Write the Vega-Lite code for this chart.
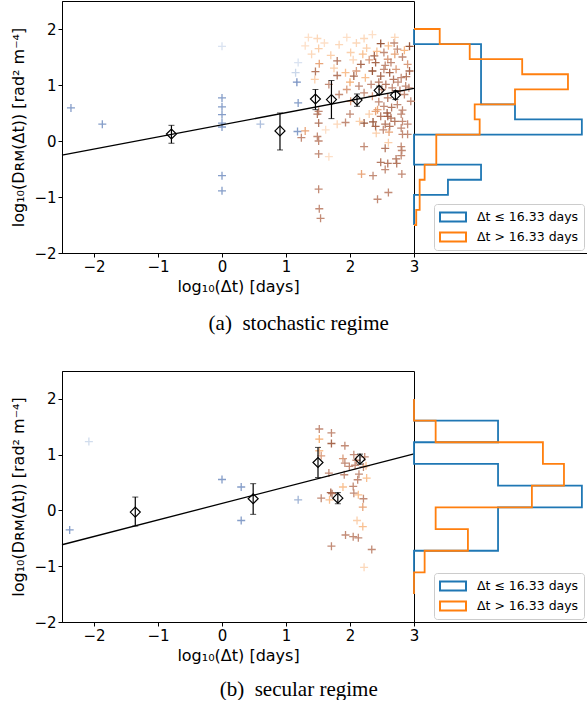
{
"$schema": "https://vega.github.io/schema/vega-lite/v6.json",
"padding": {"left": 10, "top": 0, "right": 0, "bottom": 0},
"config": {
 "font": "DejaVu Sans",
 "view": {"stroke": "black", "strokeWidth": 1},
 "axis": {"labelFont": "DejaVu Sans", "labelFontSize": 15, "titleFont": "DejaVu Sans", "titleFontSize": 16, "titleFontWeight": "normal", "labelColor": "black", "titleColor": "black", "tickColor": "black", "domainColor": "black", "grid": false, "tickSize": 4, "labelPadding": 2, "labelFlush": false, "labelOverlap": false, "titlePadding": 4, "format": "d"},
 "axisY": {"titlePadding": 7},
 "legend": {"orient": "bottom-right", "offset": 3, "fillColor": "white", "strokeColor": "#cccccc", "cornerRadius": 3, "padding": 5, "labelFont": "DejaVu Sans", "labelFontSize": 12.5, "labelColor": "black", "symbolType": "M-1,-0.35H1V0.35H-1Z", "symbolSize": 676, "symbolStrokeWidth": 2, "symbolFillColor": "transparent", "labelOffset": 10, "clipHeight": 16, "rowPadding": 4},
 "title": {"font": "Liberation Serif", "fontSize": 21, "fontWeight": "normal", "color": "black", "orient": "bottom", "anchor": "middle", "offset": 18}
},
"datasets": {
 "blueA": [
  {"x":-2.36,"y":0.59,"w":0.7},{"x":-1.87,"y":0.30,"w":0.7},{"x":0,"y":1.69,"w":0.1},{"x":0,"y":0.77,"w":0.7},{"x":0,"y":0.61,"w":0.7},{"x":0,"y":0.47,"w":0.7},{"x":0,"y":0.32,"w":0.7},{"x":0,"y":0.25,"w":0.7},{"x":0,"y":-0.62,"w":0.7},{"x":0,"y":-0.89,"w":0.7},{"x":0.60,"y":0.30,"w":0.4},{"x":1.15,"y":1.22,"w":0.2},{"x":1.19,"y":1.40,"w":0.1},{"x":1.17,"y":1.05,"w":0.8},{"x":1.19,"y":0.68,"w":0.7},{"x":1.18,"y":0.17,"w":0.7}
 ],
 "orangeA": [
  {"x":1.49,"y":1.83,"w":0.15},{"x":2.22,"y":1.83,"w":0.15},{"x":2.48,"y":1.74,"w":0.9},{"x":2.69,"y":1.75,"w":0.6},{"x":2.93,"y":1.69,"w":0.9},{"x":1.83,"y":1.72,"w":0.15},{"x":2.26,"y":1.66,"w":0.2},{"x":1.51,"y":1.65,"w":0.2},{"x":2.74,"y":1.64,"w":0.6},{"x":2.53,"y":1.58,"w":0.6},{"x":2.01,"y":1.58,"w":0.2},{"x":1.70,"y":1.53,"w":0.2},{"x":2.38,"y":1.52,"w":0.8},{"x":2.59,"y":1.46,"w":0.5},{"x":2.82,"y":1.50,"w":0.6},{"x":1.80,"y":1.43,"w":0.7},{"x":1.52,"y":1.38,"w":0.45},{"x":2.17,"y":1.37,"w":0.8},{"x":2.40,"y":1.40,"w":0.8},{"x":2.64,"y":1.40,"w":0.6},{"x":2.90,"y":1.37,"w":0.5},{"x":1.46,"y":1.24,"w":0.7},{"x":2.35,"y":1.25,"w":0.9},{"x":2.53,"y":1.28,"w":0.6},{"x":2.72,"y":1.28,"w":0.5},{"x":2.93,"y":1.25,"w":0.8},{"x":1.80,"y":1.17,"w":0.7},{"x":2.06,"y":1.16,"w":0.8},{"x":2.24,"y":1.13,"w":0.3},{"x":1.93,"y":1.22,"w":0.3},{"x":2.48,"y":1.16,"w":0.8},{"x":2.80,"y":1.13,"w":0.6},{"x":1.67,"y":1.01,"w":0.6},{"x":2.14,"y":0.98,"w":0.6},{"x":2.33,"y":1.01,"w":0.6},{"x":2.56,"y":1.01,"w":0.7},{"x":2.66,"y":0.95,"w":0.6},{"x":2.87,"y":0.98,"w":0.6},{"x":1.83,"y":0.83,"w":0.6},{"x":2.22,"y":0.86,"w":0.6},{"x":2.59,"y":0.77,"w":0.7},{"x":2.85,"y":0.83,"w":0.6},{"x":2.01,"y":0.71,"w":0.5},{"x":2.95,"y":0.71,"w":0.6},{"x":2.53,"y":0.62,"w":0.6},{"x":2.74,"y":0.65,"w":0.6},{"x":1.51,"y":0.53,"w":0.6},{"x":2.43,"y":0.56,"w":0.45},{"x":2.82,"y":0.55,"w":0.6},
  {"x":1.49,"y":0.48,"w":0.7},{"x":2.00,"y":0.48,"w":0.6},{"x":2.30,"y":0.48,"w":0.2},{"x":2.40,"y":0.53,"w":0.45},{"x":2.48,"y":0.44,"w":0.7},{"x":2.59,"y":0.44,"w":0.8},{"x":2.64,"y":0.41,"w":0.7},{"x":2.80,"y":0.48,"w":0.6},{"x":1.51,"y":0.32,"w":0.7},{"x":1.80,"y":0.30,"w":0.15},{"x":1.93,"y":0.33,"w":0.6},{"x":2.22,"y":0.32,"w":0.9},{"x":2.36,"y":0.34,"w":0.9},{"x":2.40,"y":0.26,"w":0.8},{"x":2.55,"y":0.30,"w":0.7},{"x":2.62,"y":0.26,"w":0.7},{"x":2.82,"y":0.35,"w":0.6},{"x":2.80,"y":0.23,"w":0.6},{"x":1.30,"y":0.18,"w":0.45},{"x":1.24,"y":0.06,"w":0.6},{"x":2.41,"y":0.14,"w":0.2},{"x":2.61,"y":0.16,"w":0.45},{"x":2.82,"y":0.12,"w":0.6},{"x":2.90,"y":0.12,"w":0.6},{"x":1.49,"y":0.08,"w":0.6},{"x":1.51,"y":0.00,"w":0.6},{"x":2.60,"y":-0.03,"w":0.2},{"x":2.22,"y":-0.10,"w":0.6},{"x":2.55,"y":-0.13,"w":0.7},{"x":2.80,"y":-0.10,"w":0.6},{"x":2.81,"y":-0.17,"w":0.6},{"x":2.80,"y":-0.26,"w":0.6},{"x":1.67,"y":-0.28,"w":0.1},{"x":1.51,"y":-0.23,"w":0.6},{"x":2.72,"y":-0.32,"w":0.7},{"x":2.73,"y":-0.40,"w":0.7},{"x":2.48,"y":-0.38,"w":0.7},{"x":2.59,"y":-0.40,"w":0.7},{"x":2.18,"y":-0.59,"w":0.45},{"x":2.36,"y":-0.62,"w":0.6},{"x":2.55,"y":-0.51,"w":0.6},{"x":2.81,"y":-0.59,"w":0.6},{"x":1.51,"y":-0.86,"w":0.6},{"x":2.60,"y":-0.92,"w":0.6},
  {"x":2.43,"y":-1.04,"w":0.6},{"x":1.52,"y":-1.21,"w":0.6},{"x":1.54,"y":-1.38,"w":0.6},
  {"x":2.62,"y":1.22,"w":0.8},{"x":2.68,"y":1.10,"w":0.7},{"x":2.75,"y":1.05,"w":0.6},{"x":2.45,"y":1.05,"w":0.7},{"x":2.50,"y":0.92,"w":0.6},{"x":2.78,"y":0.90,"w":0.7},{"x":2.88,"y":1.15,"w":0.7},{"x":2.92,"y":0.95,"w":0.6},{"x":2.55,"y":1.35,"w":0.6},{"x":2.70,"y":1.55,"w":0.45},{"x":2.85,"y":1.62,"w":0.35},{"x":2.42,"y":1.60,"w":0.3},{"x":2.30,"y":1.45,"w":0.5},{"x":2.20,"y":1.55,"w":0.3},{"x":2.10,"y":1.25,"w":0.5},{"x":2.00,"y":1.05,"w":0.4},{"x":1.95,"y":0.92,"w":0.5},{"x":2.65,"y":0.60,"w":0.7},{"x":2.58,"y":0.50,"w":0.8},{"x":2.70,"y":0.35,"w":0.7},{"x":2.52,"y":0.20,"w":0.6},{"x":2.90,"y":0.30,"w":0.6},{"x":2.45,"y":0.70,"w":0.6},{"x":2.35,"y":0.80,"w":0.5},
  {"x":1.35,"y":1.85,"w":0.1},{"x":1.60,"y":1.75,"w":0.1},{"x":1.95,"y":1.85,"w":0.1},{"x":2.10,"y":1.75,"w":0.15},{"x":1.40,"y":1.55,"w":0.15},{"x":1.75,"y":1.30,"w":0.2},{"x":1.45,"y":1.10,"w":0.2},{"x":2.05,"y":1.45,"w":0.15},{"x":2.70,"y":1.85,"w":0.15},{"x":2.35,"y":1.90,"w":0.1},{"x":2.60,"y":1.70,"w":0.3},{"x":2.15,"y":0.35,"w":0.2},{"x":1.30,"y":1.70,"w":0.1},{"x":1.62,"y":0.20,"w":0.1}
 ],
 "meanA": [
  {"x":-0.79,"y":0.125,"lo":-0.04,"hi":0.28},{"x":0.906,"y":0.18,"lo":-0.16,"hi":0.50},{"x":1.46,"y":0.75,"lo":0.56,"hi":0.92},{"x":1.71,"y":0.74,"lo":0.40,"hi":1.08},{"x":2.11,"y":0.73,"lo":0.62,"hi":0.84},{"x":2.455,"y":0.905,"lo":0.83,"hi":0.98},{"x":2.71,"y":0.82,"lo":0.74,"hi":0.90}
 ],
 "fitA": [{"x":-2.5,"y":-0.253},{"x":3,"y":0.94}],
 "histA": [
  {"g":"Δt ≤ 16.33 days","i":0,"edge":-1.5,"dens":0},{"g":"Δt ≤ 16.33 days","i":1,"edge":-1.2308,"dens":0},{"g":"Δt ≤ 16.33 days","i":2,"edge":-0.9615,"dens":0},{"g":"Δt ≤ 16.33 days","i":3,"edge":-0.6923,"dens":0.198},{"g":"Δt ≤ 16.33 days","i":4,"edge":-0.4231,"dens":0.391},{"g":"Δt ≤ 16.33 days","i":5,"edge":-0.1538,"dens":0},{"g":"Δt ≤ 16.33 days","i":6,"edge":0.1154,"dens":0},{"g":"Δt ≤ 16.33 days","i":7,"edge":0.3846,"dens":0.979},{"g":"Δt ≤ 16.33 days","i":8,"edge":0.6538,"dens":0.589},{"g":"Δt ≤ 16.33 days","i":9,"edge":0.9231,"dens":0.391},{"g":"Δt ≤ 16.33 days","i":10,"edge":1.1923,"dens":0.391},{"g":"Δt ≤ 16.33 days","i":11,"edge":1.4615,"dens":0.391},{"g":"Δt ≤ 16.33 days","i":12,"edge":1.7308,"dens":0.391},{"g":"Δt ≤ 16.33 days","i":13,"edge":2.0,"dens":0},{"g":"Δt ≤ 16.33 days","i":14,"edge":2.0,"dens":0},
  {"g":"Δt > 16.33 days","i":0,"edge":-1.5,"dens":0},{"g":"Δt > 16.33 days","i":1,"edge":-1.2308,"dens":0.013},{"g":"Δt > 16.33 days","i":2,"edge":-0.9615,"dens":0.033},{"g":"Δt > 16.33 days","i":3,"edge":-0.6923,"dens":0.033},{"g":"Δt > 16.33 days","i":4,"edge":-0.4231,"dens":0.062},{"g":"Δt > 16.33 days","i":5,"edge":-0.1538,"dens":0.130},{"g":"Δt > 16.33 days","i":6,"edge":0.1154,"dens":0.130},{"g":"Δt > 16.33 days","i":7,"edge":0.3846,"dens":0.383},{"g":"Δt > 16.33 days","i":8,"edge":0.6538,"dens":0.354},{"g":"Δt > 16.33 days","i":9,"edge":0.9231,"dens":0.589},{"g":"Δt > 16.33 days","i":10,"edge":1.1923,"dens":0.898},{"g":"Δt > 16.33 days","i":11,"edge":1.4615,"dens":0.631},{"g":"Δt > 16.33 days","i":12,"edge":1.7308,"dens":0.325},{"g":"Δt > 16.33 days","i":13,"edge":2.0,"dens":0.150},{"g":"Δt > 16.33 days","i":14,"edge":2.0,"dens":0}
 ],
 "blueB": [
  {"x":-2.38,"y":-0.35,"w":0.7},{"x":-2.08,"y":1.235,"w":0.15},{"x":0.0,"y":0.555,"w":0.7},{"x":0.30,"y":0.42,"w":0.7},{"x":0.30,"y":-0.18,"w":0.7},{"x":1.19,"y":0.19,"w":0.5}
 ],
 "orangeB": [
  {"x":1.52,"y":1.46,"w":0.6},{"x":1.71,"y":1.39,"w":0.6},{"x":1.71,"y":1.20,"w":0.8},{"x":1.92,"y":1.16,"w":0.6},{"x":1.52,"y":1.07,"w":0.3},{"x":1.55,"y":0.98,"w":0.5},{"x":2.06,"y":1.00,"w":0.6},{"x":1.89,"y":0.93,"w":0.5},{"x":2.23,"y":0.96,"w":0.6},{"x":1.92,"y":0.85,"w":0.6},{"x":1.99,"y":0.79,"w":0.6},{"x":2.08,"y":0.81,"w":0.6},{"x":2.21,"y":0.78,"w":0.6},{"x":1.67,"y":0.67,"w":0.6},{"x":1.91,"y":0.64,"w":0.6},{"x":2.14,"y":0.65,"w":0.6},{"x":2.12,"y":0.55,"w":0.6},{"x":2.26,"y":0.58,"w":0.3},{"x":1.89,"y":0.42,"w":0.3},{"x":2.05,"y":0.43,"w":0.6},{"x":2.06,"y":0.31,"w":0.6},{"x":2.13,"y":0.28,"w":0.3},{"x":1.55,"y":0.22,"w":0.6},{"x":1.70,"y":0.32,"w":0.8},{"x":1.68,"y":0.19,"w":0.3},{"x":2.21,"y":0.21,"w":0.6},{"x":2.20,"y":0.06,"w":0.45},{"x":2.11,"y":-0.18,"w":0.2},{"x":2.20,"y":-0.29,"w":0.3},{"x":1.93,"y":-0.44,"w":0.6},{"x":2.05,"y":-0.47,"w":0.6},{"x":2.13,"y":-0.49,"w":0.6},{"x":1.71,"y":-0.64,"w":0.6},{"x":2.34,"y":-0.70,"w":0.6},{"x":2.22,"y":-1.02,"w":0.15},{"x":1.52,"y":1.28,"w":0.4},{"x":2.10,"y":0.90,"w":0.6},{"x":1.72,"y":0.30,"w":0.7},{"x":2.25,"y":0.80,"w":0.3}
 ],
 "meanB": [
  {"x":-1.355,"y":-0.03,"lo":-0.28,"hi":0.24},{"x":0.487,"y":0.21,"lo":-0.07,"hi":0.48},{"x":1.50,"y":0.86,"lo":0.59,"hi":1.13},{"x":1.81,"y":0.22,"lo":0.12,"hi":0.32},{"x":2.156,"y":0.92,"lo":0.83,"hi":1.01}
 ],
 "fitB": [{"x":-2.5,"y":-0.615},{"x":3,"y":1.015}],
 "histB": [
  {"g":"Δt ≤ 16.33 days","i":0,"edge":-1.5,"dens":0},{"g":"Δt ≤ 16.33 days","i":1,"edge":-1.1111,"dens":0},{"g":"Δt ≤ 16.33 days","i":2,"edge":-0.7222,"dens":0},{"g":"Δt ≤ 16.33 days","i":3,"edge":-0.3333,"dens":0.427},{"g":"Δt ≤ 16.33 days","i":4,"edge":0.0556,"dens":0.427},{"g":"Δt ≤ 16.33 days","i":5,"edge":0.4444,"dens":0.853},{"g":"Δt ≤ 16.33 days","i":6,"edge":0.8333,"dens":0.427},{"g":"Δt ≤ 16.33 days","i":7,"edge":1.2222,"dens":0},{"g":"Δt ≤ 16.33 days","i":8,"edge":1.6111,"dens":0.427},{"g":"Δt ≤ 16.33 days","i":9,"edge":2.0,"dens":0},{"g":"Δt ≤ 16.33 days","i":10,"edge":2.0,"dens":0},
  {"g":"Δt > 16.33 days","i":0,"edge":-1.5,"dens":0},{"g":"Δt > 16.33 days","i":1,"edge":-1.1111,"dens":0},{"g":"Δt > 16.33 days","i":2,"edge":-0.7222,"dens":0.054},{"g":"Δt > 16.33 days","i":3,"edge":-0.3333,"dens":0.274},{"g":"Δt > 16.33 days","i":4,"edge":0.0556,"dens":0.110},{"g":"Δt > 16.33 days","i":5,"edge":0.4444,"dens":0.599},{"g":"Δt > 16.33 days","i":6,"edge":0.8333,"dens":0.762},{"g":"Δt > 16.33 days","i":7,"edge":1.2222,"dens":0.655},{"g":"Δt > 16.33 days","i":8,"edge":1.6111,"dens":0.110},{"g":"Δt > 16.33 days","i":9,"edge":2.0,"dens":0},{"g":"Δt > 16.33 days","i":10,"edge":2.0,"dens":0}
 ]
},
"spacing": 36,
"resolve": {"scale": {"x": "independent", "y": "independent", "color": "independent"}, "legend": {"color": "independent"}},
"vconcat": [
 {
  "title": {"text": "(a)\u2002stochastic regime"},
  "bounds": "flush",
  "spacing": 0,
  "resolve": {"scale": {"x": "independent", "y": "independent", "color": "independent"}, "legend": {"color": "independent"}},
  "hconcat": [
   {
    "width": 352, "height": 252,
    "resolve": {"scale": {"color": "independent"}},
    "layer": [
     {"data": {"name": "blueA"},
      "mark": {"type": "point", "shape": "M-1,0H1M0,-1V1", "filled": false, "size": 64, "strokeWidth": 1.3, "opacity": 0.9},
      "encoding": {
       "x": {"field": "x", "type": "quantitative", "scale": {"domain": [-2.5, 3], "nice": false, "zero": false}, "axis": {"values": [-2,-1,0,1,2,3], "title": "log₁₀(Δt) [days]"}},
       "y": {"field": "y", "type": "quantitative", "scale": {"domain": [-2, 2.5], "nice": false, "zero": false}, "axis": {"values": [-2,-1,0,1,2], "title": "log₁₀(Dʀᴍ(Δt)) [rad² m⁻⁴]"}},
       "color": {"field": "w", "type": "quantitative", "scale": {"domain": [0, 1], "range": ["#e6edf7", "#4d6fae"]}, "legend": null}
      }},
     {"data": {"name": "orangeA"},
      "mark": {"type": "point", "shape": "M-1,0H1M0,-1V1", "filled": false, "size": 64, "strokeWidth": 1.3, "opacity": 0.9},
      "encoding": {
       "x": {"field": "x", "type": "quantitative"},
       "y": {"field": "y", "type": "quantitative"},
       "color": {"field": "w", "type": "quantitative", "scale": {"domain": [0, 0.4, 0.55, 1], "range": ["#fdeee2", "#f5a868", "#c58a74", "#7e3312"]}, "legend": null}
      }},
     {"mark": {"type": "rule", "color": "black", "strokeWidth": 1.2, "strokeDash": [1.5, 2]},
      "encoding": {"x": {"datum": 1.213}}},
     {"data": {"name": "fitA"},
      "mark": {"type": "line", "color": "black", "strokeWidth": 1.3},
      "encoding": {"x": {"field": "x", "type": "quantitative"}, "y": {"field": "y", "type": "quantitative"}}},
     {"data": {"name": "meanA"},
      "mark": {"type": "errorbar", "color": "black", "ticks": {"size": 6, "color": "black"}, "rule": {"strokeWidth": 1.2}},
      "encoding": {"x": {"field": "x", "type": "quantitative"}, "y": {"field": "lo", "type": "quantitative", "title": "log₁₀(Dʀᴍ(Δt)) [rad² m⁻⁴]"}, "y2": {"field": "hi"}}},
     {"data": {"name": "meanA"},
      "mark": {"type": "point", "shape": "diamond", "filled": false, "size": 100, "color": "black", "strokeWidth": 1.2, "opacity": 1},
      "encoding": {"x": {"field": "x", "type": "quantitative"}, "y": {"field": "y", "type": "quantitative"}}}
    ]
   },
   {
    "width": 173, "height": 252,
    "view": {"stroke": null},
    "layer": [
     {"data": {"name": "histA"},
      "mark": {"type": "line", "interpolate": "step-after", "strokeWidth": 1.8},
      "encoding": {
       "x": {"field": "dens", "type": "quantitative", "scale": {"domain": [0, 1.009], "nice": false, "zero": false}, "axis": {"labels": false, "ticks": false, "title": null, "domain": true}},
       "y": {"field": "edge", "type": "quantitative", "scale": {"domain": [-2, 2.5], "nice": false, "zero": false}, "axis": null},
       "order": {"field": "i"},
       "color": {"field": "g", "type": "nominal", "scale": {"domain": ["Δt ≤ 16.33 days", "Δt > 16.33 days"], "range": ["#1f77b4", "#ff7f0e"]}, "legend": {"title": null}}
      }},
     {"mark": {"type": "rule", "color": "black", "strokeWidth": 1},
      "encoding": {"y": {"datum": 2.5}}}
    ]
   }
  ]
 },
 {
  "title": {"text": "(b)\u2002secular regime", "offset": 15},
  "bounds": "flush",
  "spacing": 0,
  "resolve": {"scale": {"x": "independent", "y": "independent", "color": "independent"}, "legend": {"color": "independent"}},
  "hconcat": [
   {
    "width": 352, "height": 251,
    "resolve": {"scale": {"color": "independent"}},
    "layer": [
     {"data": {"name": "blueB"},
      "mark": {"type": "point", "shape": "M-1,0H1M0,-1V1", "filled": false, "size": 64, "strokeWidth": 1.3, "opacity": 0.9},
      "encoding": {
       "x": {"field": "x", "type": "quantitative", "scale": {"domain": [-2.5, 3], "nice": false, "zero": false}, "axis": {"values": [-2,-1,0,1,2,3], "title": "log₁₀(Δt) [days]"}},
       "y": {"field": "y", "type": "quantitative", "scale": {"domain": [-2, 2.5], "nice": false, "zero": false}, "axis": {"values": [-2,-1,0,1,2], "title": "log₁₀(Dʀᴍ(Δt)) [rad² m⁻⁴]"}},
       "color": {"field": "w", "type": "quantitative", "scale": {"domain": [0, 1], "range": ["#e6edf7", "#4d6fae"]}, "legend": null}
      }},
     {"data": {"name": "orangeB"},
      "mark": {"type": "point", "shape": "M-1,0H1M0,-1V1", "filled": false, "size": 64, "strokeWidth": 1.3, "opacity": 0.9},
      "encoding": {
       "x": {"field": "x", "type": "quantitative"},
       "y": {"field": "y", "type": "quantitative"},
       "color": {"field": "w", "type": "quantitative", "scale": {"domain": [0, 0.4, 0.55, 1], "range": ["#fdeee2", "#f5a868", "#c58a74", "#7e3312"]}, "legend": null}
      }},
     {"mark": {"type": "rule", "color": "black", "strokeWidth": 1.2, "strokeDash": [1.5, 2]},
      "encoding": {"x": {"datum": 1.213}}},
     {"data": {"name": "fitB"},
      "mark": {"type": "line", "color": "black", "strokeWidth": 1.3},
      "encoding": {"x": {"field": "x", "type": "quantitative"}, "y": {"field": "y", "type": "quantitative"}}},
     {"data": {"name": "meanB"},
      "mark": {"type": "errorbar", "color": "black", "ticks": {"size": 6, "color": "black"}, "rule": {"strokeWidth": 1.2}},
      "encoding": {"x": {"field": "x", "type": "quantitative"}, "y": {"field": "lo", "type": "quantitative", "title": "log₁₀(Dʀᴍ(Δt)) [rad² m⁻⁴]"}, "y2": {"field": "hi"}}},
     {"data": {"name": "meanB"},
      "mark": {"type": "point", "shape": "diamond", "filled": false, "size": 100, "color": "black", "strokeWidth": 1.2, "opacity": 1},
      "encoding": {"x": {"field": "x", "type": "quantitative"}, "y": {"field": "y", "type": "quantitative"}}}
    ]
   },
   {
    "width": 173, "height": 251,
    "view": {"stroke": null},
    "layer": [
     {"data": {"name": "histB"},
      "mark": {"type": "line", "interpolate": "step-after", "strokeWidth": 1.8},
      "encoding": {
       "x": {"field": "dens", "type": "quantitative", "scale": {"domain": [0, 0.879], "nice": false, "zero": false}, "axis": {"labels": false, "ticks": false, "title": null, "domain": true}},
       "y": {"field": "edge", "type": "quantitative", "scale": {"domain": [-2, 2.5], "nice": false, "zero": false}, "axis": null},
       "order": {"field": "i"},
       "color": {"field": "g", "type": "nominal", "scale": {"domain": ["Δt ≤ 16.33 days", "Δt > 16.33 days"], "range": ["#1f77b4", "#ff7f0e"]}, "legend": {"title": null}}
      }},
     {"mark": {"type": "rule", "color": "black", "strokeWidth": 1},
      "encoding": {"y": {"datum": 2.5}}}
    ]
   }
  ]
 }
]
}
